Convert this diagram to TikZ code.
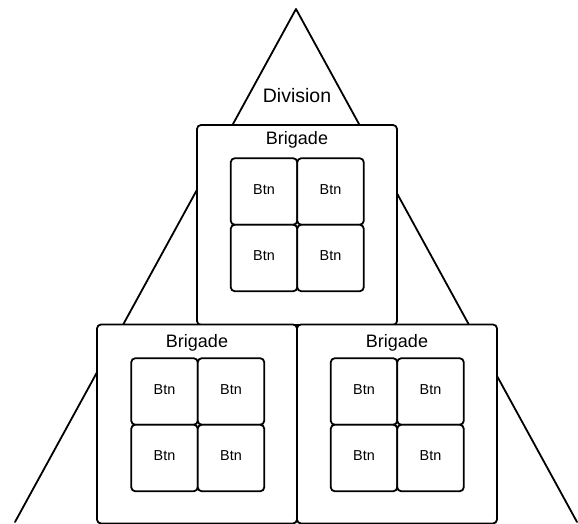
\documentclass[tikz,border=0pt]{standalone}
\usepackage{fontspec}
\setmainfont{Liberation Sans}
\begin{document}
\begin{tikzpicture}[x=1pt,y=-1pt,
  ln/.style={line width=1.8pt, line join=round, line cap=round},
  brig/.style={ln, draw, fill=white, rounded corners=4pt, inner sep=0pt, outer sep=0pt, minimum width=200pt, minimum height=199pt},
  btn/.style={ln, draw, fill=white, rounded corners=4pt, inner sep=0pt, outer sep=0pt, minimum width=66.5pt, minimum height=66.5pt, text height=10.3pt, text depth=4.5pt, font=\fontsize{14.4}{16}\selectfont},
  blabel/.style={font=\fontsize{18}{20}\selectfont, inner sep=0pt},
]
\useasboundingbox (0,0) rectangle (578,524);
% triangle
\coordinate (apex) at (296,9);
\coordinate (bl) at (15,522);
\coordinate (br) at (577,522);
\draw[ln] (bl) -- (apex) -- (br);
\node[font=\fontsize{19.5}{22}\selectfont, inner sep=0pt] (div) at (297,96) {Division};
% brigades
\node[brig, minimum height=200pt] (b1) at (297,225) {};
\node[brig] (b2) at (197,424) {};
\node[brig] (b3) at (397,424) {};
\node[blabel] (l1) at (297,140) {Brigade};
\node[blabel] (l2) at (197,343) {Brigade};
\node[blabel] (l3) at (397,343) {Brigade};
% battalions top
\node[btn] (t11) at (264,191.5) {Btn};
\node[btn] (t12) at (330.5,191.5) {Btn};
\node[btn] (t21) at (264,258) {Btn};
\node[btn] (t22) at (330.5,258) {Btn};
% battalions bottom left
\node[btn] (l11) at (164.5,391.5) {Btn};
\node[btn] (l12) at (231,391.5) {Btn};
\node[btn] (l21) at (164.5,458) {Btn};
\node[btn] (l22) at (231,458) {Btn};
% battalions bottom right
\node[btn] (r11) at (364,391.5) {Btn};
\node[btn] (r12) at (430.5,391.5) {Btn};
\node[btn] (r21) at (364,458) {Btn};
\node[btn] (r22) at (430.5,458) {Btn};
\end{tikzpicture}
\end{document}
